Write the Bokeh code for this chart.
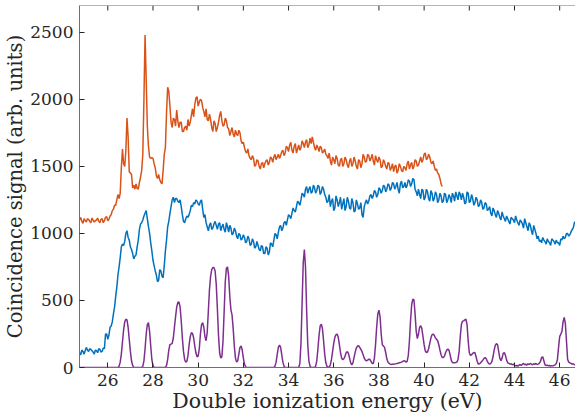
import numpy as np
from bokeh.plotting import figure
from bokeh.models import FixedTicker, Span
from bokeh.embed import file_html
from bokeh.resources import INLINE

# ---------------- data ----------------
x_ticks = [26, 28, 30, 32, 34, 36, 38, 40, 42, 44, 46]
y_ticks = [0, 500, 1000, 1500, 2000, 2500]
x_min, x_max = 24.748, 46.70
y_min, y_max = 0, 2700

# orange series: energies 24.75, 24.80, ... (0.05 eV step), one row per eV
orange_start = 24.75
orange_step = 0.05
orange_values = [
    1100, 1120, 1090, 1075, 1110, 1095, 1085, 1110, 1105, 1090, 1080, 1115, 1100, 1085, 1095, 1100, 1115, 1090, 1080, 1105,
    1110, 1080, 1095, 1120, 1125, 1095, 1105, 1130, 1140, 1170, 1180, 1210, 1210, 1250, 1290, 1260, 1300, 1490, 1630, 1520,
    1500, 1620, 1860, 1720, 1460, 1450, 1440, 1340, 1360, 1330, 1370, 1335, 1330, 1380, 1420, 1470, 1590, 2000, 2480, 2150,
    1800, 1650, 1570, 1560, 1565, 1560, 1520, 1490, 1430, 1410, 1440, 1400, 1380, 1370, 1470, 1590, 1640, 1900, 2090, 2060,
    1950, 1830, 1790, 1860, 1850, 1800, 1920, 1840, 1790, 1830, 1830, 1760, 1760, 1790, 1800, 1770, 1850, 1800, 1830, 1880,
    1930, 1870, 1960, 2010, 2020, 1950, 1980, 2000, 1990, 1940, 1910, 1870, 1930, 1850, 1840, 1890, 1850, 1790, 1760, 1840,
    1820, 1760, 1790, 1830, 1880, 1910, 1840, 1800, 1810, 1860, 1840, 1790, 1780, 1730, 1760, 1790, 1740, 1720, 1770, 1740,
    1730, 1770, 1750, 1690, 1670, 1680, 1640, 1610, 1600, 1630, 1580, 1560, 1550, 1580, 1560, 1500, 1510, 1550, 1540, 1500,
    1480, 1520, 1530, 1490, 1520, 1540, 1550, 1510, 1530, 1570, 1560, 1530, 1570, 1590, 1550, 1570, 1590, 1560, 1580, 1610,
    1620, 1580, 1600, 1650, 1640, 1610, 1660, 1680, 1620, 1600, 1650, 1670, 1600, 1630, 1660, 1620, 1640, 1690, 1670, 1640,
    1680, 1700, 1640, 1660, 1710, 1670, 1720, 1680, 1640, 1620, 1660, 1640, 1610, 1650, 1640, 1600, 1610, 1630, 1590, 1580,
    1560, 1600, 1540, 1510, 1570, 1550, 1520, 1580, 1560, 1510, 1500, 1550, 1560, 1500, 1520, 1570, 1550, 1510, 1490, 1540,
    1560, 1500, 1520, 1570, 1540, 1500, 1480, 1550, 1540, 1490, 1520, 1590, 1570, 1530, 1540, 1590, 1580, 1540, 1560, 1590,
    1540, 1510, 1580, 1550, 1530, 1570, 1550, 1490, 1500, 1550, 1530, 1500, 1480, 1530, 1520, 1470, 1490, 1520, 1460, 1500,
    1510, 1450, 1470, 1520, 1500, 1470, 1460, 1500, 1490, 1470, 1520, 1540, 1480, 1510, 1530, 1480, 1500, 1550, 1540, 1500,
    1510, 1540, 1570, 1530, 1550, 1590, 1600, 1550, 1560, 1590, 1570, 1530, 1520, 1540, 1500, 1470, 1480, 1450, 1440, 1410,
    1370, 1350,
]

# blue series: energies 24.75, 24.80, ... (0.05 eV step), one row per eV
blue_start = 24.75
blue_step = 0.05
blue_values = [
    110, 95, 130, 120, 100, 125, 150, 130, 120, 140, 135, 125, 115, 100, 130, 125, 110, 140, 135, 115,
    120, 145, 140, 250, 250, 210, 240, 300, 310, 340, 400, 450, 530, 600, 690, 750, 820, 900, 920, 910,
    940, 1000, 1020, 970, 950, 900, 880, 850, 810, 830, 840, 900, 950, 1030, 1070, 1080, 1100, 1130, 1150, 1170,
    1110, 1050, 1000, 930, 870, 800, 760, 720, 690, 640, 650, 730, 720, 680, 670, 760, 870, 950, 1050, 1090,
    1150, 1200, 1250, 1270, 1230, 1260, 1260, 1240, 1230, 1250, 1200, 1140, 1090, 1080, 1110, 1130, 1120, 1140, 1170, 1210,
    1200, 1230, 1220, 1250, 1240, 1220, 1210, 1240, 1250, 1180, 1120, 1140, 1080, 1050, 1020, 1060, 1080, 1030, 1040, 1070,
    1090, 1060, 1030, 1070, 1080, 1020, 1050, 1070, 1030, 1010, 1080, 1050, 1010, 1060, 1040, 990, 1000, 1040, 1020, 980,
    960, 1000, 990, 950, 960, 990, 970, 930, 940, 980, 960, 910, 920, 960, 940, 890, 900, 940, 910, 880,
    870, 910, 900, 850, 850, 900, 890, 840, 860, 930, 920, 900, 950, 1000, 990, 960, 1010, 1050, 1060, 1020,
    1040, 1080, 1090, 1060, 1100, 1140, 1130, 1110, 1150, 1190, 1170, 1160, 1200, 1240, 1230, 1210, 1250, 1300, 1290, 1270,
    1330, 1350, 1300, 1330, 1350, 1300, 1310, 1360, 1340, 1300, 1320, 1360, 1350, 1290, 1310, 1350, 1330, 1290, 1270, 1230,
    1240, 1290, 1200, 1240, 1260, 1170, 1190, 1280, 1250, 1200, 1230, 1270, 1180, 1220, 1260, 1170, 1200, 1270, 1240, 1190,
    1180, 1260, 1230, 1160, 1170, 1250, 1220, 1180, 1190, 1230, 1140, 1120, 1200, 1230, 1250, 1220, 1240, 1280, 1290, 1260,
    1280, 1320, 1310, 1270, 1290, 1340, 1330, 1300, 1320, 1360, 1350, 1310, 1330, 1370, 1360, 1320, 1340, 1380, 1370, 1330,
    1350, 1380, 1330, 1300, 1370, 1390, 1340, 1350, 1380, 1340, 1360, 1400, 1390, 1350, 1370, 1410, 1400, 1330, 1310, 1280,
    1330, 1290, 1260, 1330, 1320, 1250, 1270, 1330, 1310, 1260, 1240, 1320, 1300, 1240, 1260, 1310, 1290, 1230, 1250, 1300,
    1280, 1230, 1240, 1300, 1290, 1230, 1250, 1290, 1270, 1230, 1300, 1280, 1240, 1310, 1280, 1250, 1310, 1290, 1250, 1300,
    1270, 1220, 1230, 1310, 1300, 1230, 1240, 1290, 1260, 1210, 1230, 1270, 1250, 1200, 1210, 1250, 1230, 1180, 1190, 1230,
    1220, 1170, 1180, 1200, 1150, 1130, 1190, 1170, 1140, 1120, 1170, 1150, 1120, 1100, 1160, 1130, 1110, 1090, 1130, 1110,
    1090, 1070, 1120, 1110, 1100, 1080, 1130, 1100, 1080, 1060, 1100, 1090, 1070, 1040, 1110, 1080, 1050, 1020, 1080, 1060,
    1020, 990, 1060, 1030, 1000, 960, 980, 940, 950, 930, 970, 950, 940, 920, 960, 940, 930, 910, 960, 950,
    940, 920, 950, 930, 930, 910, 960, 950, 980, 960, 970, 1000, 1000, 980, 990, 1010, 1030, 1040, 1080, 1090,
]

# purple series: energies 24.75, 24.80, ... (0.05 eV step), one row per eV
purple_start = 24.75
purple_step = 0.05
purple_values = [
    0, 0, 0, 0, 0, 0, 0, 0, 0, 0, 0, 0, 0, 0, 0, 0, 0, 0, 0, 0,
    0, 0, 0, 0, 0, 0, 0, 0, 0, 0, 0, 0, 0, 0, 0, 10, 40, 100, 190, 280,
    340, 360, 355, 300, 210, 120, 50, 15, 0, 0, 0, 0, 0, 0, 0, 0, 10, 50, 140, 250,
    320, 335, 270, 160, 60, 15, 0, 0, 0, 0, 0, 0, 0, 0, 0, 0, 0, 15, 60, 130,
    170, 175, 180, 220, 300, 380, 450, 485, 490, 450, 350, 220, 120, 60, 40, 45, 90, 170, 230, 260,
    255, 220, 160, 110, 80, 85, 140, 250, 320, 335, 300, 230, 200, 260, 420, 580, 680, 730, 745, 745,
    720, 620, 440, 240, 110, 70, 80, 200, 420, 640, 740, 750, 680, 530, 430, 390, 290, 160, 70, 40,
    50, 100, 150, 160, 130, 70, 25, 5, 0, 0, 0, 0, 0, 0, 0, 0, 0, 0, 0, 0,
    0, 0, 0, 0, 0, 0, 0, 0, 0, 0, 0, 0, 0, 10, 40, 100, 150, 167, 150, 95,
    40, 10, 0, 0, 0, 0, 0, 0, 0, 0, 0, 0, 0, 0, 0, 30, 180, 480, 780, 880,
    750, 430, 170, 50, 10, 0, 0, 0, 0, 10, 50, 140, 240, 310, 323, 290, 200, 100, 35, 10,
    0, 5, 20, 60, 120, 180, 225, 245, 249, 225, 170, 110, 70, 58, 65, 85, 110, 119, 105, 70,
    35, 20, 35, 75, 115, 145, 160, 162, 150, 135, 120, 95, 70, 55, 50, 55, 62, 60, 45, 30,
    30, 70, 170, 300, 400, 428, 380, 250, 170, 160, 150, 110, 65, 40, 30, 25, 22, 25, 24, 27,
    28, 30, 32, 35, 38, 40, 45, 50, 48, 40, 45, 90, 200, 350, 470, 510, 505, 400, 270, 216,
    250, 300, 311, 290, 230, 170, 125, 112, 115, 140, 180, 220, 245, 249, 240, 220, 211, 200, 170, 130,
    95, 75, 74, 85, 110, 130, 137, 130, 95, 55, 37, 35, 35, 37, 40, 60, 120, 230, 320, 345,
    348, 355, 360, 320, 200, 110, 90, 95, 105, 112, 110, 80, 45, 25, 28, 35, 45, 55, 68, 74,
    65, 45, 30, 25, 30, 45, 80, 130, 165, 178, 170, 120, 70, 50, 70, 105, 112, 90, 55, 35,
    30, 25, 28, 20, 25, 18, 12, 15, 10, 18, 22, 15, 25, 30, 20, 25, 18, 28, 22, 30,
    25, 20, 28, 24, 30, 22, 25, 30, 45, 75, 80, 50, 20, 15, 18, 12, 15, 10, 14, 12,
    16, 20, 30, 60, 150, 230, 249, 270, 340, 373, 330, 200, 62, 40, 35, 30, 25, 28, 20, 22,
]

x_label = "Double ionization energy (eV)"
y_label = "Coincidence signal (arb. units)"

orange_x = orange_start + orange_step * np.arange(len(orange_values))
blue_x = blue_start + blue_step * np.arange(len(blue_values))
purple_x = purple_start + purple_step * np.arange(len(purple_values))

# ---------------- figure ----------------
FONT = "DejaVu Serif"
TXT = "#262626"
AX = "#6f6f6f"
PLOT_H = 362  # frame height in px (for inward top ticks)

p = figure(width=575, height=416, x_range=(x_min, x_max), y_range=(y_min, y_max),
           output_backend="svg", toolbar_location=None,
           min_border_left=79, min_border_right=0, min_border_top=5,
           min_border_bottom=49)
p.outline_line_color = None
p.grid.visible = False
p.background_fill_color = "white"
p.border_fill_color = "white"

p.line(purple_x, purple_values, color="#7E2F8E", line_width=1.5)
p.line(blue_x, blue_values, color="#0072BD", line_width=1.5)
p.line(orange_x, orange_values, color="#D95319", line_width=1.5)

for ax in (p.xaxis[0], p.yaxis[0]):
    ax.axis_line_color = AX
    ax.axis_line_width = 1
    ax.major_tick_line_color = TXT
    ax.major_tick_in = 5
    ax.major_tick_out = 0
    ax.minor_tick_line_color = None
    ax.major_label_text_font = FONT
    ax.major_label_text_font_size = "17px"
    ax.major_label_text_color = TXT
    ax.axis_label_text_font = FONT
    ax.axis_label_text_font_style = "normal"
    ax.axis_label_text_color = TXT

p.xaxis[0].ticker = FixedTicker(ticks=x_ticks)
p.yaxis[0].ticker = FixedTicker(ticks=y_ticks)
p.xaxis[0].axis_label = x_label
p.yaxis[0].axis_label = y_label
p.xaxis[0].axis_label_text_font_size = "20.5px"
p.yaxis[0].axis_label_text_font_size = "19.5px"
p.xaxis[0].major_label_standoff = 6
p.yaxis[0].major_label_standoff = 6
p.xaxis[0].axis_label_standoff = 0
p.yaxis[0].axis_label_standoff = 0

# top border of the box with inward ticks (no labels)
p.add_layout(Span(location=y_max, dimension="width", line_color=AX, line_width=1))
tick_len = 5 * (y_max - y_min) / PLOT_H
p.segment(x0=x_ticks, y0=[y_max] * len(x_ticks), x1=x_ticks,
          y1=[y_max - tick_len] * len(x_ticks), line_color=TXT, line_width=1)

open("out.html", "w").write(file_html(p, INLINE))
